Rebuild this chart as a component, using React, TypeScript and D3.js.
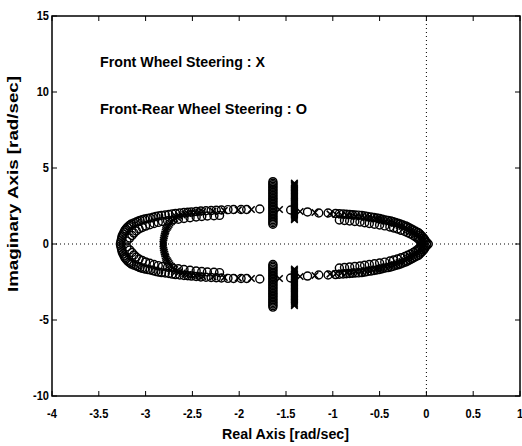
import React from "react";
import * as d3 from "d3";

// Front-rear wheel steering (O) – upper-half locus, outer row [real, imag]
const frontRearLocus: [number, number][] = [
  [-3.27, 0], [-3.265, 0.13], [-3.26, 0.26], [-3.255, 0.4], [-3.25, 0.53], [-3.24, 0.66], [-3.23, 0.79],
  [-3.22, 0.9], [-3.21, 0.99], [-3.195, 1.09], [-3.18, 1.18], [-3.165, 1.25], [-3.15, 1.32],
  [-3.125, 1.39], [-3.10, 1.45], [-3.08, 1.5], [-3.06, 1.55], [-3.035, 1.6], [-3.01, 1.64],
  [-2.98, 1.68], [-2.95, 1.71], [-2.92, 1.76], [-2.89, 1.81], [-2.86, 1.85], [-2.83, 1.88],
  [-2.79, 1.91], [-2.75, 1.94], [-2.715, 1.98], [-2.68, 2.01], [-2.635, 2.04], [-2.59, 2.07],
  [-2.55, 2.09], [-2.51, 2.11], [-2.46, 2.14], [-2.41, 2.17], [-2.355, 2.19], [-2.30, 2.20],
  [-2.245, 2.22], [-2.19, 2.24], [-2.12, 2.26], [-2.06, 2.27], [-1.98, 2.27], [-1.92, 2.27],
  [-1.78, 2.30], [-1.45, 2.24], [-1.27, 2.11], [-1.15, 2.04], [-1.05, 2.04], [-0.97, 2.01],
  [-0.93, 1.99], [-0.89, 1.97], [-0.855, 1.96], [-0.82, 1.94], [-0.79, 1.92], [-0.76, 1.91],
  [-0.725, 1.9], [-0.69, 1.88], [-0.66, 1.85], [-0.63, 1.81], [-0.595, 1.78], [-0.56, 1.74],
  [-0.53, 1.71], [-0.50, 1.68], [-0.47, 1.63], [-0.44, 1.58], [-0.41, 1.55], [-0.38, 1.51],
  [-0.355, 1.46], [-0.33, 1.41], [-0.305, 1.37], [-0.28, 1.32], [-0.25, 1.25], [-0.22, 1.18],
  [-0.2, 1.12], [-0.18, 1.05], [-0.16, 0.99], [-0.14, 0.92], [-0.115, 0.84], [-0.09, 0.76],
  [-0.075, 0.68], [-0.06, 0.59], [-0.045, 0.49], [-0.03, 0.39], [-0.02, 0.3], [-0.01, 0.20],
  [0.005, 0.1], [0.02, 0],
];

// Front-rear wheel steering (O) – inner row
const frontRearInner: [number, number][] = [
  [-3.2, 0.2], [-3.17, 0.39], [-3.145, 0.56], [-3.125, 0.72], [-3.1, 0.86], [-3.07, 0.99],
  [-3.035, 1.09], [-3.0, 1.18], [-2.955, 1.27], [-2.91, 1.35], [-2.865, 1.42], [-2.82, 1.48],
  [-2.765, 1.53], [-2.71, 1.58], [-2.65, 1.63], [-2.59, 1.68], [-2.525, 1.73], [-2.46, 1.78],
  [-2.4, 1.81], [-2.34, 1.84], [-2.27, 1.86], [-2.21, 1.88],
  [-0.93, 1.58], [-0.875, 1.55], [-0.82, 1.51], [-0.765, 1.48], [-0.71, 1.45], [-0.66, 1.4],
  [-0.61, 1.35], [-0.555, 1.3], [-0.50, 1.25], [-0.445, 1.19], [-0.39, 1.12], [-0.35, 1.05],
  [-0.31, 0.99], [-0.27, 0.9], [-0.23, 0.82], [-0.2, 0.74], [-0.17, 0.66], [-0.14, 0.56],
  [-0.115, 0.46], [-0.09, 0.35], [-0.07, 0.23], [-0.055, 0.11],
];

// Front wheel steering (X) – upper-half locus [real, imag]
const frontLocus: [number, number][] = [
  [-2.815, 0], [-2.812, 0.13], [-2.81, 0.26], [-2.805, 0.4], [-2.80, 0.53], [-2.795, 0.66],
  [-2.79, 0.79], [-2.785, 0.89], [-2.78, 0.99], [-2.77, 1.09], [-2.76, 1.18], [-2.75, 1.28],
  [-2.74, 1.38], [-2.725, 1.48], [-2.71, 1.58], [-2.69, 1.68], [-2.67, 1.78], [-2.64, 1.85],
  [-2.61, 1.91], [-2.58, 1.96], [-2.55, 2.01], [-2.51, 2.04], [-2.47, 2.07], [-2.43, 2.1],
  [-2.39, 2.14], [-2.28, 2.17], [-2.16, 2.20], [-2.01, 2.24], [-1.87, 2.27], [-1.57, 2.27],
  [-1.35, 2.14], [-1.19, 2.07], [-1.03, 1.98], [-0.965, 1.94], [-0.905, 1.91], [-0.85, 1.88],
  [-0.80, 1.85], [-0.75, 1.81], [-0.70, 1.78], [-0.66, 1.74], [-0.62, 1.71], [-0.58, 1.68],
  [-0.54, 1.64], [-0.505, 1.6], [-0.47, 1.55], [-0.435, 1.5], [-0.40, 1.45], [-0.37, 1.4],
  [-0.34, 1.35], [-0.315, 1.29], [-0.29, 1.22], [-0.26, 1.15], [-0.23, 1.09], [-0.21, 1.01],
  [-0.19, 0.93], [-0.17, 0.85], [-0.15, 0.77], [-0.125, 0.68], [-0.10, 0.58], [-0.085, 0.48],
  [-0.07, 0.38], [-0.06, 0.29], [-0.05, 0.19], [-0.04, 0.1], [-0.03, 0],
];

// Vertical pole clusters
const frontRearClusterReal = -1.64;
const frontRearClusterImag = [1.3, 1.4, 1.5, 1.6, 1.7, 1.8, 1.9, 2.0, 2.1, 2.2, 2.3, 2.4, 2.5, 2.6, 2.7, 2.8, 2.9, 3.0, 3.1, 3.2, 3.3, 3.4, 3.5, 3.6, 3.7, 3.8, 3.9, 4.0, 4.1];
const frontClusterReal = -1.41;
const frontClusterImag = [1.6, 1.68, 1.76, 1.84, 1.92, 2.0, 2.08, 2.16, 2.24, 2.32, 2.4, 2.48, 2.56, 2.64, 2.72, 2.8, 2.88, 2.96, 3.04, 3.12, 3.2, 3.28, 3.36, 3.44, 3.52, 3.6, 3.68, 3.76, 3.84, 3.92, 4.0];

const xTicks = [-4, -3.5, -3, -2.5, -2, -1.5, -1, -0.5, 0, 0.5, 1];
const yTicks = [15, 10, 5, 0, -5, -10];
const xTickLabels = ["-4", "-3.5", "-3", "-2.5", "-2", "-1.5", "-1", "-0.5", "0", "0.5", "1"];
const yTickLabels = ["15", "10", "5", "0", "-5", "-10"];

const W = 522, H = 446;
const L = 52, R = 520, T = 16, B = 396;
const FONT = "'Liberation Sans', Arial, sans-serif";

export default function App() {
  const x = d3.scaleLinear().domain([-4, 1]).range([L, R]);
  const y = d3.scaleLinear().domain([-10, 15]).range([B, T]);

  const withConj = (pts: [number, number][]) =>
    pts.flatMap(([re, im]) => (im === 0 ? [[re, im]] : [[re, im], [re, -im]]));

  const oPts = [
    ...withConj(frontRearLocus),
    ...withConj(frontRearInner),
    ...frontRearClusterImag.flatMap((im) => [[frontRearClusterReal, im], [frontRearClusterReal, -im - 0.05]]),
  ];
  const xPts = [
    ...withConj(frontLocus),
    ...frontClusterImag.flatMap((im) => [[frontClusterReal, im], [frontClusterReal, -im - 0.05]]),
  ];

  const xs = 3.3;
  const labelText = (len: number) => ({ textLength: len, lengthAdjust: "spacingAndGlyphs" as const });
  return (
    <svg width={W} height={H} style={{ position: "absolute", left: 0, top: 0, background: "#fff" }}>
      <rect x={0} y={0} width={W} height={H} fill="#fff" />
      <line x1={L} x2={R} y1={y(0)} y2={y(0)} stroke="#000" strokeWidth={1} strokeDasharray="1,3" />
      <line x1={x(0)} x2={x(0)} y1={T} y2={B} stroke="#000" strokeWidth={1} strokeDasharray="1,3" />

      {oPts.map(([re, im], i) => (
        <circle key={"o" + i} cx={x(re)} cy={y(im)} r={4} fill="none" stroke="#000" strokeWidth={1.4} />
      ))}
      {xPts.map(([re, im], i) => {
        const cx = x(re), cy = y(im);
        return (
          <path key={"x" + i} d={`M${cx - xs},${cy - xs}L${cx + xs},${cy + xs}M${cx - xs},${cy + xs}L${cx + xs},${cy - xs}`}
            stroke="#000" strokeWidth={1.5} fill="none" />
        );
      })}

      <rect x={L} y={T} width={R - L} height={B - T} fill="none" stroke="#000" strokeWidth={1.5} />
      {xTicks.map((t) => (
        <g key={"xt" + t}>
          <line x1={x(t)} x2={x(t)} y1={B} y2={B - 5} stroke="#000" strokeWidth={1} />
          <line x1={x(t)} x2={x(t)} y1={T} y2={T + 5} stroke="#000" strokeWidth={1} />
        </g>
      ))}
      {yTicks.map((t) => (
        <g key={"yt" + t}>
          <line x1={L} x2={L + 5} y1={y(t)} y2={y(t)} stroke="#000" strokeWidth={1} />
          <line x1={R} x2={R - 5} y1={y(t)} y2={y(t)} stroke="#000" strokeWidth={1} />
        </g>
      ))}
      {xTicks.map((t, i) => (
        <text key={"xl" + t} x={x(t)} y={418} textAnchor="middle" fontFamily={FONT} fontWeight="bold" fontSize={13}
          transform={`translate(${x(t)},0) scale(0.85,1) translate(${-x(t)},0)`}>
          {xTickLabels[i]}
        </text>
      ))}
      {yTicks.map((t, i) => (
        <text key={"yl" + t} x={49} y={y(t) + 4.5} textAnchor="end" fontFamily={FONT} fontWeight="bold" fontSize={13}
          transform={`translate(49,0) scale(0.85,1) translate(-49,0)`}>
          {yTickLabels[i]}
        </text>
      ))}

      <text x={100} y={67} fontFamily={FONT} fontWeight="bold" fontSize={14.5} {...labelText(165)}>Front Wheel Steering : X</text>
      <text x={100} y={114} fontFamily={FONT} fontWeight="bold" fontSize={14.5} {...labelText(207)}>Front-Rear Wheel Steering : O</text>

      <text x={222} y={439} fontFamily={FONT} fontWeight="bold" fontSize={14.5} {...labelText(127)}>Real Axis [rad/sec]</text>
      <text transform={`translate(18,292) rotate(-90)`} fontFamily={FONT} fontWeight="bold" fontSize={14.5} {...labelText(216)}>
        Imaginary Axis [rad/sec]
      </text>
    </svg>
  );
}
